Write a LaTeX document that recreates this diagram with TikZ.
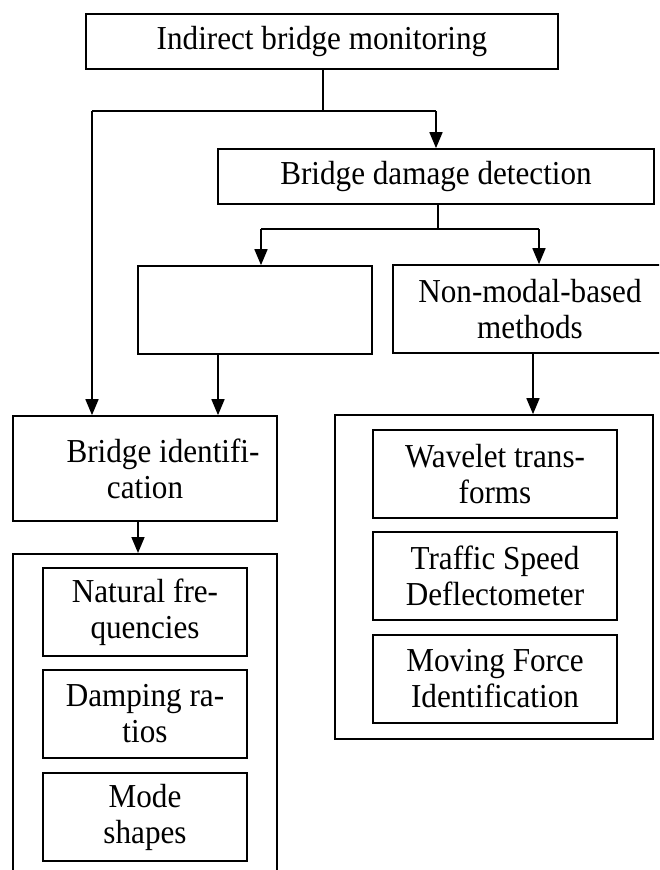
\documentclass[tikz,border=0pt]{standalone}
\usepackage{fontspec}
\setmainfont{Liberation Serif}[FakeStretch=0.93]
\usetikzlibrary{arrows.meta}
\begin{document}
\begin{tikzpicture}[x=1pt,y=-1pt,
  box/.style={draw,line width=1.7pt,inner sep=0pt,align=center,
    font=\fontsize{33.5}{36}\selectfont},
  arr/.style={line width=1.7pt,-{Triangle[length=16pt,width=13pt]}},
  ln/.style={line width=1.7pt},
  thinln/.style={line width=1.2pt}]
\useasboundingbox (0,0) rectangle (659,870);
\clip (0,0) rectangle (659,870);
% boxes
\node[box,minimum width=472pt,minimum height=55pt] (top) at (322,41.5) {Indirect bridge monitoring};
\node[box,minimum width=436pt,minimum height=55pt] (bdd) at (436,176.5) {Bridge damage detection};
\node[box,minimum width=234pt,minimum height=88pt] (empty) at (255,310) {};
\node[box,minimum width=274pt,minimum height=88pt] (nonmodal) at (530,309) {Non-modal-based\\methods};
\node[box,minimum width=264pt,minimum height=105pt] (bid) at (145,468.5) {\hspace*{36pt}Bridge identifi-\\cation};
\node[box,minimum width=264pt,minimum height=360pt,anchor=north] (lout) at (145,553) {};
\node[box,minimum width=204pt,minimum height=88pt] (nf) at (145,612) {Natural fre-\\quencies};
\node[box,minimum width=204pt,minimum height=88pt] (dr) at (145,714) {Damping ra-\\tios};
\node[box,minimum width=204pt,minimum height=88pt] (ms) at (145,817) {Mode\\shapes};
\node[box,minimum width=318pt,minimum height=324pt] (rout) at (494,577) {};
\node[box,minimum width=244pt,minimum height=88pt] (wt) at (495,474) {Wavelet trans-\\forms};
\node[box,minimum width=244pt,minimum height=88pt] (tsd) at (495,576) {Traffic Speed\\Deflectometer};
\node[box,minimum width=244pt,minimum height=88pt] (mfi) at (495,679) {Moving Force\\Identification};
% junction coordinates
\coordinate (j1) at (323,111);
\coordinate (lx) at (92,111);
\coordinate (rx) at (436,111);
\coordinate (j2) at (438,229);
\coordinate (ea) at (261,229);
\coordinate (na) at (539,229);
\coordinate (eb) at (218,354);
\coordinate (bb) at (138,521);
\coordinate (nb) at (533,353);
% connectors
\draw[thinln] (j1 |- top.south) -- (j1);
\draw[ln] (lx) -- (rx);
\draw[arr] (lx) -- (lx |- bid.north);
\draw[arr] (rx) -- (rx |- bdd.north);
\draw[ln] (j2 |- bdd.south) -- (j2);
\draw[ln] (ea) -- (na);
\draw[arr] (ea) -- (ea |- empty.north);
\draw[arr] (na) -- (na |- nonmodal.north);
\draw[arr] (eb |- empty.south) -- (eb |- bid.north);
\draw[arr] (bb |- bid.south) -- (bb |- lout.north);
\draw[arr] (nb |- nonmodal.south) -- (nb |- rout.north);
\end{tikzpicture}
\end{document}
